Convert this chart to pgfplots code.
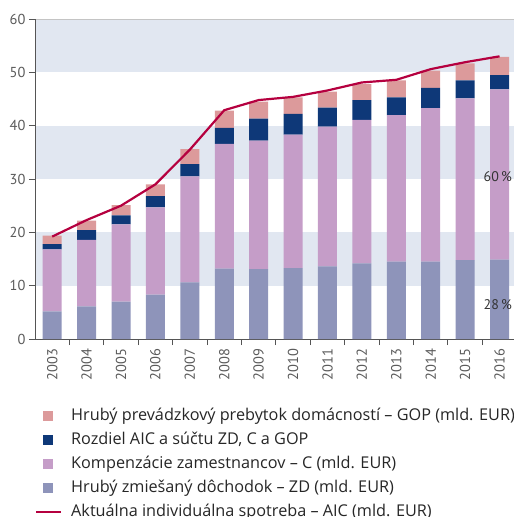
\documentclass[border=0pt]{standalone}
\usepackage{pgfplots}
\pgfplotsset{compat=1.18}
\usepackage{fontspec}
\setmainfont{PT Sans}
\newfontfamily\legfont{Open Sans}
\definecolor{bandblue}{HTML}{E1E7F1}
\definecolor{gopcol}{HTML}{DC9A9B}
\definecolor{darkcol}{HTML}{0E3878}
\definecolor{compcol}{HTML}{C59DC8}
\definecolor{zdcol}{HTML}{8E94BA}
\definecolor{aiccol}{HTML}{B5003F}
\definecolor{tickgray}{HTML}{5A5A5A}
\definecolor{axisgray}{HTML}{555555}
\definecolor{topgray}{HTML}{C4C4C4}

\pgfplotstableread{
x ZD C D GOP AIC
0 5.2 11.6 1.0 1.6 19.2
1 6.1 12.5 1.8 1.8 22.3
2 7.0 14.5 1.7 1.9 25.0
3 8.3 16.4 2.1 2.2 29.0
4 10.6 19.9 2.3 2.8 35.5
5 13.2 23.4 3.0 3.2 42.9
6 13.1 24.1 4.1 3.2 44.8
7 13.3 25.0 3.9 3.1 45.4
8 13.6 26.2 3.6 3.0 46.6
9 14.2 26.9 3.7 3.0 48.1
10 14.5 27.5 3.3 3.2 48.6
11 14.5 28.8 3.8 3.2 50.6
12 14.8 30.3 3.4 3.2 51.9
13 14.9 31.9 2.7 3.4 53.0
}\datatable

\pgfplotsset{
  common/.style={
    at={(0,0)}, anchor=south west,
    scale only axis, width=479bp, height=320bp,
    xmin=-0.5, xmax=13.42, ymin=0, ymax=60,
    enlargelimits=false,
  },
  sqleg/.style={legend image code/.code={\fill[##1] (0bp,-5bp) rectangle (10bp,5bp);}},
  lnleg/.style={legend image code/.code={\draw[##1] (-7bp,0bp) -- (18bp,0bp);}},
}

\begin{document}
\begin{tikzpicture}
\begin{axis}[common, hide axis]
\fill[bandblue] (axis cs:-0.5,10) rectangle (axis cs:13.42,20);
\fill[bandblue] (axis cs:-0.5,30) rectangle (axis cs:13.42,40);
\fill[bandblue] (axis cs:-0.5,50) rectangle (axis cs:13.42,60);
\draw[topgray, line width=1bp] (axis cs:-0.5,60) -- (axis cs:13.42,60);
\end{axis}
\begin{axis}[
  common,
  ybar stacked, bar width=19bp,
  axis x line*=bottom, axis y line*=left,
  axis line style={draw=axisgray, line width=0.9bp},
  ytick={0,10,...,60},
  xtick={0,...,13},
  xticklabels={2003,2004,2005,2006,2007,2008,2009,2010,2011,2012,2013,2014,2015,2016},
  minor xtick={0.5,1.5,...,12.5},
  tick align=outside,
  major tick length=6bp, minor tick length=6bp,
  major x tick style={draw=none},
  minor x tick style={draw=axisgray, line width=0.9bp},
  ytick style={draw=axisgray, line width=0.9bp},
  /pgf/number format/assume math mode=true,
  ticklabel style={font=\fontsize{14.5}{14.5}\selectfont, text=tickgray},
  x tick label style={rotate=90, anchor=east},
  legend cell align=left,
  legend style={at={(rel axis cs:0,-0.2125)}, anchor=north west, draw=none, fill=none,
    inner sep=0pt, outer sep=0pt,
    nodes={inner sep=0pt, font=\legfont\fontsize{16.3}{16.3}\selectfont, text=black!85, text height=13bp, text depth=4.5bp},
    row sep=6.5bp, column sep=9bp},
]
\addplot[fill=zdcol, draw=none, forget plot] table[x=x, y=ZD] {\datatable};
\addplot[fill=compcol, draw=none, forget plot] table[x=x, y=C] {\datatable};
\addplot[fill=darkcol, draw=none, forget plot] table[x=x, y=D] {\datatable};
\addplot[fill=gopcol, draw=none, forget plot] table[x=x, y=GOP] {\datatable};

\addlegendimage{sqleg, fill=gopcol, draw=none}
\addlegendentry{Hrubý prevádzkový prebytok domácností – GOP (mld. EUR)}
\addlegendimage{sqleg, fill=darkcol, draw=none}
\addlegendentry{Rozdiel AIC a súčtu ZD, C a GOP}
\addlegendimage{sqleg, fill=compcol, draw=none}
\addlegendentry{Kompenzácie zamestnancov – C (mld. EUR)}
\addlegendimage{sqleg, fill=zdcol, draw=none}
\addlegendentry{Hrubý zmiešaný dôchodok – ZD (mld. EUR)}
\addlegendimage{lnleg, draw=aiccol, line width=2.2bp}
\addlegendentry{Aktuálna individuálna spotreba – AIC (mld. EUR)}
\end{axis}
\begin{axis}[common, hide axis]
\addplot[aiccol, line width=2.2bp, sharp plot, mark=none] table[x=x, y=AIC] {\datatable};
\node[font=\fontsize{14}{14}\selectfont, text=black!80] at (axis cs:12.95,30.4) {60\,\%};
\node[font=\fontsize{14}{14}\selectfont, text=black!80] at (axis cs:12.95,6.4) {28\,\%};
\end{axis}
\pgfresetboundingbox
\path[use as bounding box] (-35bp,-178bp) rectangle (479bp,339bp);
\end{tikzpicture}
\end{document}
